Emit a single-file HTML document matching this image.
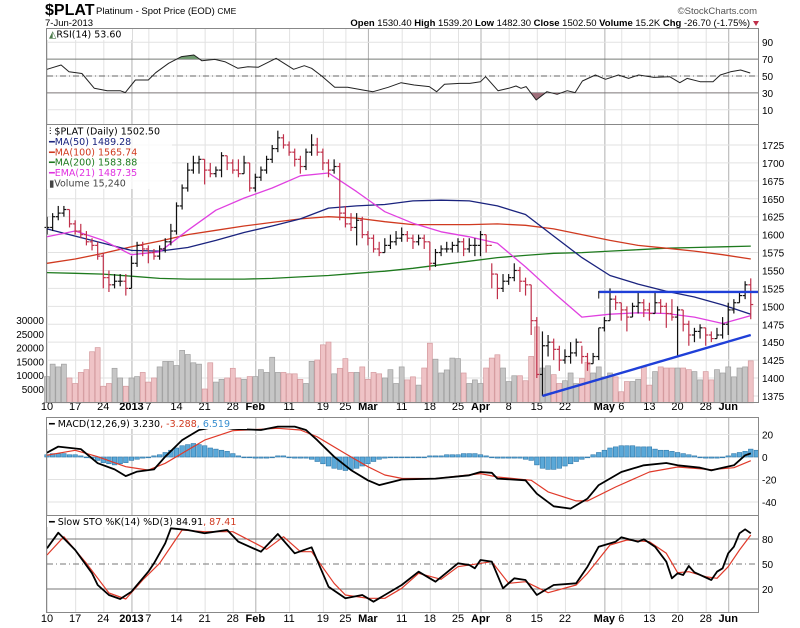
<!DOCTYPE html>
<html><head><meta charset="utf-8"><style>
html,body{margin:0;padding:0;background:#fff;}
svg{display:block;font-family:"DejaVu Sans","Liberation Sans",sans-serif;}
.sm{font-size:9.5px;}
</style></head><body>
<svg id="chart" width="800" height="628" viewBox="0 0 800 628" xmlns="http://www.w3.org/2000/svg">
<rect width="800" height="628" fill="#fff"/>
<g id="header">
<text x="45" y="15" font-family="Liberation Sans, sans-serif" font-size="16" font-weight="bold">$PLAT</text>
<text x="96" y="14" font-family="Liberation Sans, sans-serif" font-size="9.5">Platinum  - Spot Price (EOD) <tspan font-size="8.5">CME</tspan></text>
<text x="45" y="26" font-family="Liberation Sans, sans-serif" font-size="9.5">7-Jun-2013</text>
<text x="757" y="14" text-anchor="end" font-family="Liberation Sans, sans-serif" font-size="9.5" fill="#555">©StockCharts.com</text>
<text x="750" y="26" text-anchor="end" font-family="Liberation Sans, sans-serif" font-size="9.5"><tspan font-weight="bold">Open</tspan> 1530.40 <tspan font-weight="bold">High</tspan> 1539.20 <tspan font-weight="bold">Low</tspan> 1482.30 <tspan font-weight="bold">Close</tspan> 1502.50 <tspan font-weight="bold">Volume</tspan> 15.2K <tspan font-weight="bold">Chg</tspan> -26.70 (-1.75%)</text>
<polygon points="753,21 759,21 756,26" fill="#c0304a"/>
</g>
<g id="grid"></g>
<g id="marks"></g>
<g id="frames" fill="none" stroke="#888" stroke-width="1">
<rect x="46.5" y="28.5" width="712" height="96"/>
<rect x="46.5" y="124.5" width="712" height="278"/>
<rect x="46.5" y="417.5" width="712" height="98"/>
<rect x="46.5" y="515.5" width="712" height="97"/>
</g>
<g id="legends" class="sm">
<rect x="47" y="29" width="85" height="11" fill="#fff"/>
<text x="49" y="37.5"><tspan fill="#4a7a4a">◭</tspan>RSI(14) 53.60</text>
<rect x="47" y="125" width="125" height="64" fill="#fff" fill-opacity="0.8"/>
<text x="49" y="134.5">⫶ $PLAT (Daily) 1502.50</text>
<text x="49" y="145" fill="#1a237e">━MA(50) 1489.28</text>
<text x="49" y="155.5" fill="#d03a20">━MA(100) 1565.74</text>
<text x="49" y="165.5" fill="#1e7a1e">━MA(200) 1583.88</text>
<text x="49" y="176" fill="#e030e0">━EMA(21) 1487.35</text>
<text x="49" y="186.5" fill="#444">▮Volume 15,240</text>
<rect x="47" y="418" width="200" height="11" fill="#fff"/>
<text x="49" y="427">━ MACD(12,26,9) 3.230<tspan fill="#d03a20">, -3.288</tspan><tspan fill="#3a8fd0">, 6.519</tspan></text>
<rect x="47" y="516" width="205" height="11" fill="#fff"/>
<text x="49" y="525">━ Slow STO %K(14) %D(3) 84.91<tspan fill="#d03a20">, 87.41</tspan></text>
</g>
<g id="axes" class="sm"></g>
</svg>
<script>
// ---- data ----
const closes=[1610,1625,1630,1635,1615,1605,1600,1590,1585,1570,1540,1530,1535,1535,1525,1560,1585,1580,1575,1570,1580,1590,1605,1640,1665,1690,1700,1705,1690,1685,1690,1710,1700,1690,1685,1700,1665,
1680,1690,1705,1720,1735,1725,1715,1705,1695,1715,1725,1715,1700,1690,1695,1630,1615,1610,1620,1600,1595,1580,1575,1585,1590,1595,1600,1595,1590,1595,1590,1560,1575,1580,1580,1585,1590,1580,1585,1585,
1600,1585,1545,1525,1535,1540,1550,1535,1530,1480,1405,
1445,1450,1440,1425,1430,1435,1450,1430,1420,1430,1470,1480,1510,1505,1495,1485,1500,1505,1495,1490,1505,1500,1490,1485,1495,1475,1460,1465,1470,1460,1455,1460,1475,1495,1505,1515,1530,1502.5];
const highs=[1625,1630,1640,1640,1635,1620,1615,1605,1595,1590,1575,1550,1545,1545,1545,1570,1590,1590,1585,1580,1585,1595,1615,1645,1670,1700,1710,1710,1705,1700,1695,1715,1710,1705,1705,1710,1700,
1685,1695,1710,1725,1745,1740,1730,1720,1710,1720,1740,1735,1720,1705,1705,1700,1640,1630,1630,1625,1605,1600,1590,1595,1600,1605,1610,1605,1600,1600,1600,1590,1580,1585,1590,1590,1595,1595,1595,1595,
1605,1600,1560,1545,1545,1545,1560,1555,1540,1530,1485,
1465,1460,1455,1445,1440,1450,1455,1445,1435,1435,1470,1485,1525,1515,1505,1500,1505,1520,1510,1505,1520,1510,1505,1510,1500,1495,1480,1470,1475,1470,1465,1470,1485,1505,1510,1520,1535,1539];
const lows=[1600,1605,1620,1625,1610,1600,1595,1585,1578,1565,1525,1520,1525,1528,1515,1525,1555,1570,1560,1565,1565,1575,1585,1600,1635,1660,1685,1685,1670,1680,1680,1680,1690,1685,1680,1685,1660,
1660,1675,1685,1700,1715,1720,1710,1695,1685,1690,1710,1710,1690,1680,1685,1620,1610,1605,1585,1595,1585,1575,1570,1575,1580,1585,1590,1590,1580,1585,1580,1550,1555,1570,1575,1575,1575,1570,1575,1570,
1570,1575,1525,1510,1520,1530,1535,1520,1515,1460,1400,
1375,1430,1425,1410,1420,1420,1430,1420,1410,1420,1425,1465,1480,1495,1480,1465,1485,1490,1485,1480,1490,1490,1470,1480,1430,1465,1445,1450,1455,1445,1450,1455,1455,1460,1490,1505,1510,1482];
const volumes=[9500,14000,13000,14000,9000,7000,11000,12000,18500,20000,6000,7000,12500,9000,6000,9000,9500,11000,7500,9000,13000,15000,15000,13500,19000,17500,14500,14000,5000,14500,7500,8500,9000,12500,9000,8500,9500,9500,12000,11000,16500,11000,11000,10500,10500,8500,7000,15000,15500,21000,22000,10500,12500,16000,11000,11000,13000,8500,11000,10500,9000,12000,
7000,13000,8300,9400,6400,12600,21600,15800,10800,11900,16200,16000,10800,7000,8300,7000,12600,16200,17400,12600,7700,9800,9800,8000,16800,27500,12600,13400,10200,7000,8000,10800,7000,8800,14700,10800,13000,9400,10800,9400,4000,7700,7700,8500,13000,6400,11300,13000,12600,12600,12600,12600,12000,11300,8300,11300,8300,12000,10800,13000,9400,12600,13000,15200];
const maIdx=[0,5,10,15,20,25,30,35,40,45,50,55,60,65,70,75,80,85,90,95,100,105,110,115,120,125];
const ma50=[1608,1598,1588,1578,1577,1582,1592,1603,1612,1622,1637,1640,1642,1647,1648,1647,1640,1628,1598,1568,1543,1531,1521,1513,1502,1489];
const ma100=[1560,1566,1574,1583,1591,1600,1606,1612,1617,1622,1625,1623,1618,1614,1614,1614,1615,1613,1608,1600,1592,1585,1581,1577,1572,1566];
const ma200=[1547,1546,1545,1542,1539,1538,1538,1538,1539,1541,1543,1546,1549,1553,1558,1563,1568,1571,1574,1575,1577,1579,1581,1582,1583,1584];
const ema21=[1597,1605,1592,1572,1576,1606,1634,1651,1665,1682,1686,1660,1632,1616,1604,1597,1588,1555,1519,1485,1489,1491,1490,1485,1476,1487];
const rsiIdx=[0,2.5,3.9,6.2,8.4,10.7,13,13.9,15.7,18,19.3,21.6,23.9,26.1,27.5,29.8,31.6,33.9,35.7,37.5,40.7,43.8,45.7,47,48.8,51.1,53.4,56.1,57.9,60.6,62.9,65.2,67.9,69.2,70.6,73.3,75.1,77,77.9,80.1,82,83.3,84.2,85.1,86.9,88.8,90.6,92.4,93.8,95.1,97.4,99.2,101.5,103.3,105.1,107.8,110.6,112.4,113.7,116,118.3,119.6,121.4,123.2,124.9];
const rsiVal=[57.9,63,55,53,35.4,32.6,32.6,30.3,45.3,45.3,53.9,65,72.9,74.9,68.1,69.7,66.9,59.1,61,60.3,70.9,57.9,62.2,59.1,50,36.6,36.6,33.4,31.4,36.6,42.1,39.3,37.4,31.4,40.2,41.3,41.3,43.3,49.2,32.6,35.4,38.2,35.4,37.4,21.6,31.4,28.3,32.6,30.3,44.1,51.2,46.1,51.2,47.2,51.2,48.4,49.2,42.1,47.2,43.3,43.3,51.2,55,57.1,53.6];
const macdIdx=[0,2,6,9,12,14,16,19,21,24,27,30,33,38,41,44,46,48,51,54,57,59,63,69,75,77,79,80,85,87,90,93,96,98,102,106,110,112,116,118,120,122,124,125];
const macdVal=[3.8,9.2,7,-5.5,-11,-17,-13,-11,0.3,15,24,27,25,24,27,27,24,15,0.3,-11.6,-20.7,-25,-20,-19.2,-16.3,-13.3,-14,-19.2,-20.7,-32.6,-43.8,-45.9,-37,-25,-13.3,-7.4,-5.3,-7.4,-9.5,-11.9,-9.5,-7.4,1.5,3.2];
const sigIdx=[0,5,9,14,18,21,25,28,33,41,45,48,53,57,60,63,69,77,80,86,89,94,96,101,107,112,118,122,125];
const sigVal=[1.6,6,0.3,-8.6,-11.6,-5.6,6.2,15,23.4,25.5,24,18,3,-8.6,-16,-19,-19.2,-14.8,-17.8,-20.7,-31,-39,-39,-26.7,-13.3,-8.9,-11.3,-9.5,-3.3];
const hist=[2,3,3,3,2,2,1,0,-1,-3,-5,-6,-7,-6,-5,-3,-2,-1,0,1,2,4,6,8,10,11,12,11,10,8,7,6,5,3,1,0,0,-1,-1,-1,0,1,1,0,-1,-1,-1,-2,-4,-6,-8,-10,-11,-12,-11,-10,-8,-6,-4,-2,-1,0,0,0,0,0,0,0,1,1,1,2,2,2,3,3,3,2,1,0,-1,-1,-1,-1,-1,-2,-3,-7,-10,-11,-11,-10,-8,-6,-4,-2,0,2,4,6,8,9,10,10,10,9,9,9,7,6,6,5,4,3,2,1,0,-1,-1,-1,0,1,3,4,5,7,6];
const kIdx=[0,2,5,8,9,11,13,15,18,19,21,22,25,28,32,34,38,41,44,47,50,53,56,58,63,66,69,73,75,76,77,79,81,83,85,87,90,94,96,98,101,102,105,106,108,110,111,112,113,114,115,118,119,120,121,122,123,124,125];
const kVal=[68.8,87.6,66.8,39,24.8,12.8,8,16.8,40.8,50.8,74.8,92.8,90.8,87,90.8,76.8,64.8,86,62.8,70,22.8,8.8,12.8,4.8,24.8,40.8,28.8,50.8,48.8,44.8,54.8,52.8,20.8,32.8,30.8,12.8,24.8,26.8,46.8,70.8,76.8,82,76.8,79.6,70.8,52.8,32.8,38.8,36.8,47.6,40,30.8,40.8,44.8,62.8,70.8,86.8,91.6,86.8];
const dIdx=[0,3,7,11,14,17,20,24,28,33,37,39,42,45,47,51,53,57,60,63,66,70,73,79,82,85,89,94,96,100,103,107,110,112,114,117,119,121,123,125];
const dVal=[60.8,82.8,50.8,15.2,8,30.8,50.8,90.8,88.8,88.8,74.8,67.6,82.8,64.8,64.8,26.8,12.8,8.8,8.8,20.8,38.8,31.6,46.8,52.8,26.8,28.8,15.6,24.8,38.8,72.8,78.8,76.8,62.8,39.6,40.8,34.8,32.8,46.8,66.8,84.8];
const dateIdx=[0,5,10,15,18,23,28,33,37,43,49,53,57,63,68,73,77,82,87,92,99,102,107,112,117,121];
const dateLbl=['10','17','24','2013','7','14','21','28','Feb','11','19','25','Mar','11','18','25','Apr','8','15','22','May','6','13','20','28','Jun'];
const priceTicks=[1375,1400,1425,1450,1475,1500,1525,1550,1575,1600,1625,1650,1675,1700,1725];
const volTicks=[5000,10000,15000,20000,25000,30000];
const rsiTicks=[10,30,50,70,90];
const macdTicks=[20,0,-20,-40];
const stoTicks=[20,50,80];
const resistLine=[[98,1520],[126.3,1520]];
const supportLine=[[88,1375],[125,1460]];

// ---- scales ----
const X=i=>47+i*5.63;
const Py=p=>145+(1725-p)*0.717;
const Vy=v=>402.8-v*0.00276;
const Ry=v=>76-(v-50)*0.845;
const My=v=>457-v*1.125;
const Sy=v=>564-(v-50)*0.833;
const NS='http://www.w3.org/2000/svg';
function mk(tag,attrs,parent){const e=document.createElementNS(NS,tag);for(const k in attrs)e.setAttribute(k,attrs[k]);parent.appendChild(e);return e;}
const grid=document.getElementById('grid'),marks=document.getElementById('marks'),axes=document.getElementById('axes');

const monthLbl=['2013','Feb','Mar','Apr','May','Jun'];
dateIdx.forEach((di,k)=>{
  const major=monthLbl.includes(dateLbl[k]);
  [[29,125],[125,403],[418,516],[516,613]].forEach(r=>{
    const l=mk('line',{x1:X(di)+0.5,x2:X(di)+0.5,y1:r[0],y2:r[1],stroke:major?'#b0b0b0':'#e2e2e2','stroke-width':1},grid);
    
    
  });
  [410,622].forEach(yy=>{
    const t=mk('text',{x:X(di),y:yy,'text-anchor':'middle','font-family':'Liberation Sans, sans-serif','font-size':'11','font-weight':major?'bold':'normal'},axes);
    t.textContent=dateLbl[k];
    
    
  });
});
priceTicks.forEach(p=>{
  const l=mk('line',{x1:47,x2:758,y1:Py(p),y2:Py(p),stroke:'#e2e2e2'},grid);
  
  
  const t=mk('text',{x:762,y:Py(p)+4,'font-family':'Liberation Sans, sans-serif','font-size':'10'},axes);
  t.textContent=p;
  
  
});
volTicks.forEach(v=>{
  const t=mk('text',{x:44,y:Vy(v)+4,'text-anchor':'end','font-family':'Liberation Sans, sans-serif','font-size':'10'},axes);
  t.textContent=v;
  
  
});
rsiTicks.forEach(v=>{
  const strong=(v===30||v===70);
  const l=mk('line',{x1:47,x2:758,y1:Ry(v),y2:Ry(v),stroke:strong?'#777':'#e2e2e2'},grid);
  
  
  const t=mk('text',{x:762,y:Ry(v)+4,'font-family':'Liberation Sans, sans-serif','font-size':'10'},axes);
  t.textContent=v;
  
  
});
const rmid=mk('line',{x1:47,x2:758,y1:Ry(50),y2:Ry(50),stroke:'#666','stroke-dasharray':'6,3,1,3'},grid);


macdTicks.forEach(v=>{
  const l=mk('line',{x1:47,x2:758,y1:My(v),y2:My(v),stroke:'#e2e2e2'},grid);
  
  
  const t=mk('text',{x:762,y:My(v)+4,'font-family':'Liberation Sans, sans-serif','font-size':'10'},axes);
  t.textContent=v;
  
  
});
stoTicks.forEach(v=>{
  const l=mk('line',{x1:47,x2:758,y1:Sy(v),y2:Sy(v),stroke:'#777','stroke-dasharray':v===50?'6,3,1,3':''},grid);
  
  
  const t=mk('text',{x:762,y:Sy(v)+4,'font-family':'Liberation Sans, sans-serif','font-size':'10'},axes);
  t.textContent=v;
  
  
});

volumes.forEach((v,i)=>{
  const down=i>0&&closes[i]<closes[i-1];
  const r=mk('rect',{x:X(i)-2.5,y:Vy(v),width:5,height:402.8-Vy(v),fill:down?'#efc3c6':'#c6c6c6',stroke:down?'#d49a9e':'#a0a0a0','stroke-width':0.7},marks);
  
  
});
function pline(idx,vals,yf,color,w,name){
  const pts=idx.map((d,k)=>X(d).toFixed(1)+','+yf(vals[k]).toFixed(1)).join(' ');
  const p=mk('polyline',{points:pts,fill:'none',stroke:color,'stroke-width':w,'stroke-linejoin':'round'},marks);
  
  
  return p;
}
pline(maIdx,ma200,Py,'#1e7a1e',1.3,'ma200-line');
pline(maIdx,ma100,Py,'#d03a20',1.3,'ma100-line');
pline(maIdx,ma50,Py,'#1a237e',1.3,'ma50-line');
pline(maIdx,ema21,Py,'#e040e0',1.3,'ema21-line');
closes.forEach((c,i)=>{
  const o=i>0?closes[i-1]:c;
  const down=i>0&&c<closes[i-1];
  const col=down?'#c0304a':'#111';
  const g=mk('g',{stroke:col,'stroke-width':1.2},marks);
  
  
  mk('line',{x1:X(i),x2:X(i),y1:Py(highs[i]),y2:Py(lows[i])},g);
  mk('line',{x1:X(i)-2.5,x2:X(i),y1:Py(o),y2:Py(o)},g);
  mk('line',{x1:X(i),x2:X(i)+2.5,y1:Py(c),y2:Py(c)},g);
});
[[resistLine,'resistance-trendline'],[supportLine,'support-trendline']].forEach(([ln,nm])=>{
  const l=mk('line',{x1:X(ln[0][0]),y1:Py(ln[0][1]),x2:X(ln[1][0]),y2:Py(ln[1][1]),stroke:'#1f3fd8','stroke-width':2.4},marks);
  
  
});
const tick=mk('line',{x1:X(98),x2:X(98),y1:Py(1520)-1,y2:Py(1522)+8,stroke:'#111'},marks);



const defs=mk('defs',{},marks);
const ca=mk('clipPath',{id:'cAbove'},defs);
mk('rect',{x:47,y:29,width:711,height:Ry(70)-29},ca);
const cb=mk('clipPath',{id:'cBelow'},defs);
mk('rect',{x:47,y:Ry(30),width:711,height:125-Ry(30)},cb);
const rpts=rsiIdx.map((d,k)=>X(d).toFixed(1)+','+Ry(rsiVal[k]).toFixed(1));
const fa=mk('polygon',{points:rpts.join(' ')+' '+X(124.9)+','+Ry(70)+' '+X(0)+','+Ry(70),fill:'#6f9a6f','clip-path':'url(#cAbove)'},marks);


const fb=mk('polygon',{points:rpts.join(' ')+' '+X(124.9)+','+Ry(30)+' '+X(0)+','+Ry(30),fill:'#a0707c','clip-path':'url(#cBelow)'},marks);


pline(rsiIdx,rsiVal,Ry,'#222',1,'rsi-line');

hist.forEach((h,i)=>{
  const y0=My(0),y1=My(h);
  const r=mk('rect',{x:X(i)-2.3,y:Math.min(y0,y1),width:4.6,height:Math.max(Math.abs(y1-y0),0.8),fill:'#5aa8d8',stroke:'#2f78aa','stroke-width':0.6},marks);
  
  
});
pline(sigIdx,sigVal,My,'#e03a2a',1.2,'macd-signal-line');
pline(macdIdx,macdVal,My,'#000',1.8,'macd-line');
pline(dIdx,dVal,Sy,'#e03a2a',1.2,'sto-d-line');
pline(kIdx,kVal,Sy,'#000',1.8,'sto-k-line');

const svg=document.getElementById('chart');
svg.appendChild(document.getElementById('frames'));
svg.appendChild(document.getElementById('legends'));
</script>
</body></html>
